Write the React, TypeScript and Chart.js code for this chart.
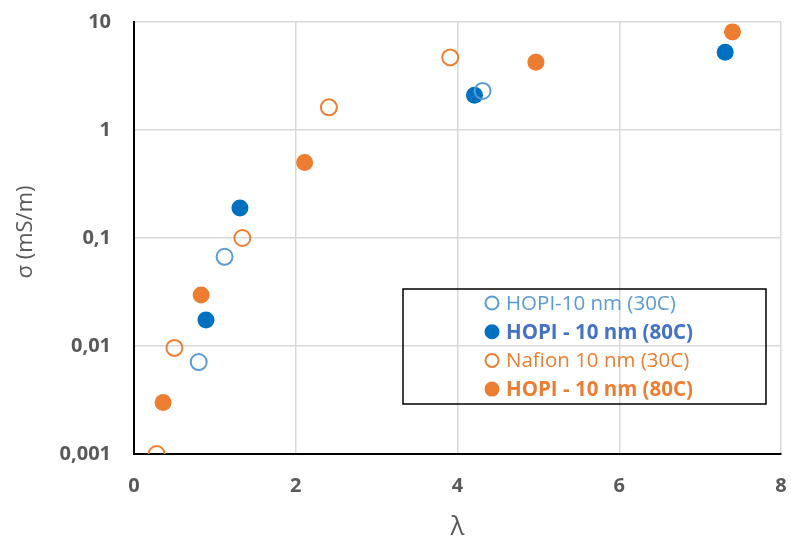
import React, { useEffect, useRef } from "react";
import { Chart, registerables } from "chart.js";

Chart.register(...registerables);

// λ (water uptake) and σ (mS/m) for each sample
const hopi30X = [0.8, 1.12, 4.31];
const hopi30Y = [0.0071, 0.067, 2.3];
const hopi80X = [0.89, 1.31, 4.21, 7.31];
const hopi80Y = [0.0174, 0.19, 2.1, 5.25];
const nafion30X = [0.28, 0.5, 1.34, 2.41, 3.91];
const nafion30Y = [0.001, 0.0096, 0.1, 1.62, 4.7];
const hopi80bX = [0.36, 0.83, 2.11, 4.97, 7.4];
const hopi80bY = [0.003, 0.0297, 0.5, 4.25, 8.1];

const xTicks = [0, 2, 4, 6, 8];
const yTicks = [0.001, 0.01, 0.1, 1, 10];

const xTitle = "λ";
const yTitle = "σ (mS/m)";
const seriesNames = ["HOPI-10 nm (30C)", "HOPI - 10 nm (80C)", "Nafion 10 nm (30C)", "HOPI - 10 nm (80C)"];

const LIGHT_BLUE = "#5B9BD5";
const BLUE = "#0070C0";
const LEGEND_BLUE = "#4472C4";
const ORANGE = "#ED7D31";
const GRAY = "#595959";
const FONT = "'Open Sans', Lato, sans-serif";

const pts = (xs: number[], ys: number[]) => xs.map((x, i) => ({ x, y: ys[i] }));

type Entry = { name: string; color: string; text: string; filled: boolean; bold: boolean };

const legendEntries: Entry[] = [
  { name: seriesNames[0], color: LIGHT_BLUE, text: LIGHT_BLUE, filled: false, bold: false },
  { name: seriesNames[1], color: BLUE, text: LEGEND_BLUE, filled: true, bold: true },
  { name: seriesNames[2], color: ORANGE, text: ORANGE, filled: false, bold: false },
  { name: seriesNames[3], color: ORANGE, text: ORANGE, filled: true, bold: true },
];

// Boxed legend inside the plot area, plus the two axis titles
const annotations = {
  id: "annotations",
  afterDraw(chart: any) {
    const { ctx, chartArea } = chart;
    const left = chartArea.left + 269;
    const top = chartArea.top + 267;
    const w = 363;
    const h = 115;
    ctx.save();
    ctx.strokeStyle = "#000";
    ctx.lineWidth = 1.5;
    ctx.strokeRect(left, top, w, h);
    legendEntries.forEach((e, i) => {
      const cy = top + 14 + i * 28.7;
      const mx = left + 89;
      ctx.beginPath();
      ctx.arc(mx, cy, e.filled ? 7.5 : 6.5, 0, Math.PI * 2);
      if (e.filled) {
        ctx.fillStyle = e.color;
        ctx.fill();
      } else {
        ctx.lineWidth = 2;
        ctx.strokeStyle = e.color;
        ctx.stroke();
      }
      ctx.fillStyle = e.text;
      ctx.font = `${e.bold ? "bold " : ""}20.5px ${FONT}`;
      ctx.textBaseline = "middle";
      ctx.textAlign = "left";
      ctx.fillText(e.name, mx + 14, cy + 1);
    });

    // axis titles
    ctx.fillStyle = GRAY;
    ctx.textAlign = "center";
    ctx.textBaseline = "middle";
    ctx.font = `26px ${FONT}`;
    ctx.fillText(xTitle, (chartArea.left + chartArea.right) / 2, chartArea.bottom + 74);
    ctx.translate(26, (chartArea.top + chartArea.bottom) / 2 - 6);
    ctx.rotate(-Math.PI / 2);
    ctx.font = `22px ${FONT}`;
    ctx.fillText(yTitle, 0, 0);
    ctx.restore();
  },
};

export default function App() {
  const ref = useRef<HTMLCanvasElement | null>(null);

  useEffect(() => {
    if (!ref.current) return;
    const open = { pointRadius: 8, pointBorderWidth: 2, pointBackgroundColor: "rgba(255,255,255,0)" };
    const filled = { pointRadius: 8.5, pointBorderWidth: 0 };
    const chart = new Chart(ref.current, {
      type: "scatter",
      data: {
        datasets: [
          { label: seriesNames[0], data: pts(hopi30X, hopi30Y), borderColor: LIGHT_BLUE, ...open },
          { label: seriesNames[1], data: pts(hopi80X, hopi80Y), borderColor: BLUE, pointBackgroundColor: BLUE, ...filled },
          { label: seriesNames[2], data: pts(nafion30X, nafion30Y), borderColor: ORANGE, ...open },
          { label: seriesNames[3], data: pts(hopi80bX, hopi80bY), borderColor: ORANGE, pointBackgroundColor: ORANGE, ...filled },
        ] as any,
      },
      options: {
        animation: false,
        responsive: false,
        maintainAspectRatio: false,
        layout: { padding: { top: 22, right: 10, left: 0, bottom: 0 } },
        plugins: { legend: { display: false }, tooltip: { enabled: false } },
        scales: {
          x: {
            type: "linear",
            min: 0,
            max: 8,
            afterBuildTicks: (s: any) => {
              s.ticks = xTicks.map((v) => ({ value: v }));
            },
            afterFit: (s: any) => {
              s.height = 87;
              s.paddingLeft = 0;
              s.paddingRight = 0;
            },
            ticks: { color: GRAY, font: { family: FONT, size: 20, weight: "bold" }, padding: 20 },
            grid: { color: "#d9d9d9", lineWidth: 1.5, drawTicks: false },
            border: { color: "#000", width: 2 },
          },
          y: {
            type: "logarithmic",
            min: 0.001,
            max: 10,
            afterBuildTicks: (s: any) => {
              s.ticks = yTicks.map((v) => ({ value: v }));
            },
            afterFit: (s: any) => {
              s.width = 134;
              s.paddingTop = 0;
              s.paddingBottom = 0;
            },
            ticks: {
              color: GRAY,
              font: { family: FONT, size: 20, weight: "bold" },
              padding: 23,
              callback: (v: any) => String(v).replace(".", ","),
            },
            grid: { color: "#d9d9d9", lineWidth: 1.5, drawTicks: false },
            border: { color: "#000", width: 2 },
          },
        },
      } as any,
      plugins: [annotations],
    });
    return () => chart.destroy();
  }, []);

  return (
    <div style={{ position: "fixed", left: 0, top: 0, width: 791, height: 541, background: "#fff" }}>
      <canvas ref={ref} width={791} height={541} style={{ display: "block" }} />
    </div>
  );
}
